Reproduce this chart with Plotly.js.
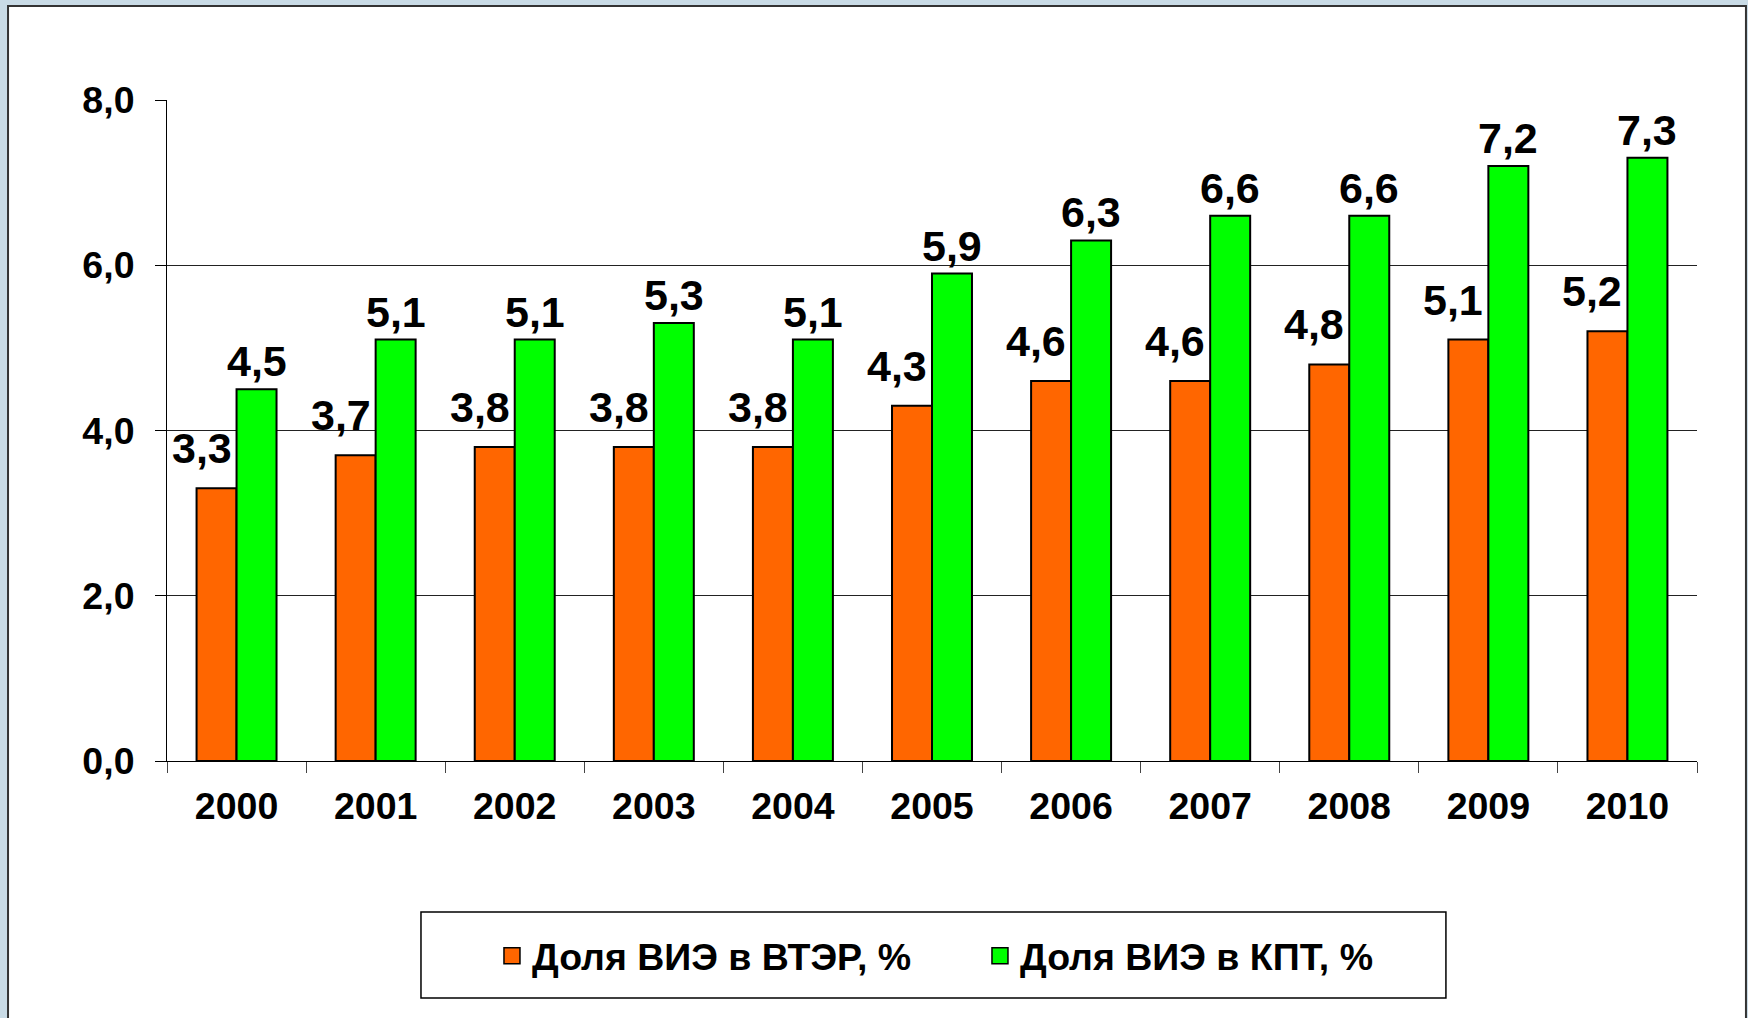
<!DOCTYPE html>
<html>
<head>
<meta charset="utf-8">
<script src="https://cdn.plot.ly/plotly-3.0.1.min.js"></script>
<style>
  html, body { margin: 0; padding: 0; overflow: hidden; background: #c9dbe6; }
  #chart { width: 1748px; height: 1018px; }
</style>
</head>
<body>
<div id="chart"></div>
<script>
// ---- data ----
const years = ['2000', '2001', '2002', '2003', '2004', '2005', '2006', '2007', '2008', '2009', '2010'];
const shareVTER = [3.3, 3.7, 3.8, 3.8, 3.8, 4.3, 4.6, 4.6, 4.8, 5.1, 5.2];
const shareKPT  = [4.5, 5.1, 5.1, 5.3, 5.1, 5.9, 6.3, 6.6, 6.6, 7.2, 7.3];
const seriesNames = ['Доля ВИЭ в ВТЭР, %', 'Доля ВИЭ в КПТ, %'];
const yTickVals = [0, 2, 4, 6, 8];

// ---- styling ----
const FONT = 'Liberation Sans, Arial, Helvetica, sans-serif';
const ORANGE = '#FF6600';
const GREEN = '#00FF00';
const fmt = v => v.toFixed(1).replace('.', ',');

const traces = [
  {
    type: 'bar', x: years, y: shareVTER, name: seriesNames[0], showlegend: false,
    marker: { color: ORANGE, line: { color: '#000', width: 2 } }, hoverinfo: 'x+y'
  },
  {
    type: 'bar', x: years, y: shareKPT, name: seriesNames[1], showlegend: false,
    marker: { color: GREEN, line: { color: '#000', width: 2 } }, hoverinfo: 'x+y'
  },
  // legend entries (square swatches, no visible point)
  {
    type: 'scatter', mode: 'markers', x: [years[0]], y: [null], name: seriesNames[0],
    marker: { symbol: 'square', size: 16, color: ORANGE, line: { color: '#000', width: 1.5 } },
    hoverinfo: 'skip'
  },
  {
    type: 'scatter', mode: 'markers', x: [years[0]], y: [null], name: seriesNames[1],
    marker: { symbol: 'square', size: 16, color: GREEN, line: { color: '#000', width: 1.5 } },
    hoverinfo: 'skip'
  }
];

// value labels: x is the category serial number (years look numeric, so names would be misread)
const annotations = [];
years.forEach((yr, i) => {
  annotations.push({
    x: i, y: shareVTER[i], xref: 'x', yref: 'y', text: fmt(shareVTER[i]),
    showarrow: false, xanchor: 'center', yanchor: 'bottom', xshift: -35, yshift: 14,
    font: { family: FONT, size: 43, color: '#000', weight: 'bold' }
  });
  annotations.push({
    x: i, y: shareKPT[i], xref: 'x', yref: 'y', text: fmt(shareKPT[i]),
    showarrow: false, xanchor: 'center', yanchor: 'bottom', xshift: 20, yshift: 2,
    font: { family: FONT, size: 43, color: '#000', weight: 'bold' }
  });
});

const layout = {
  width: 1748, height: 1018,
  margin: { l: 167, r: 51, t: 100, b: 257, autoexpand: false },
  paper_bgcolor: '#c9dbe6',
  plot_bgcolor: 'rgba(0,0,0,0)',
  separators: ', ',
  barmode: 'group', bargap: 0.425, bargroupgap: 0,
  font: { family: FONT, size: 37.5, color: '#000', weight: 'bold' },
  xaxis: {
    type: 'category', categoryorder: 'array', categoryarray: years,
    range: [-0.5, years.length - 0.5], tickangle: 0,
    tickson: 'boundaries',
    ticks: 'outside', ticklen: 11, tickwidth: 1, tickcolor: '#444',
    showline: true, linecolor: '#000', linewidth: 1,
    showgrid: false, zeroline: false,
    tickfont: { family: FONT, size: 37.5, color: '#000', weight: 'bold' },
    ticklabelstandoff: 12
  },
  yaxis: {
    range: [0, 8], tickvals: yTickVals, tickformat: '.1f',
    ticks: 'outside', ticklen: 11, tickwidth: 1, tickcolor: '#000',
    showline: true, linecolor: '#000', linewidth: 1,
    showgrid: true, gridcolor: '#222', gridwidth: 1, zeroline: false,
    tickfont: { family: FONT, size: 37.5, color: '#000', weight: 'bold' },
    ticklabelstandoff: 13
  },
  showlegend: true,
  legend: {
    orientation: 'h', x: 0.2124, xanchor: 'left', y: -0.295, yanchor: 'middle',
    bgcolor: 'rgba(0,0,0,0)', borderwidth: 0,
    entrywidth: 443, entrywidthmode: 'pixels',
    font: { family: FONT, size: 37.5, color: '#000', weight: 'bold' },
    itemclick: false, itemdoubleclick: false
  },
  shapes: [
    // white slide panel
    { type: 'rect', xref: 'paper', yref: 'paper', x0: -0.1039, x1: 1.032, y0: -0.45, y1: 1.1422,
      fillcolor: '#ffffff', line: { color: '#333', width: 2 }, layer: 'below' },
    // legend frame
    { type: 'rect', xref: 'paper', yref: 'paper', x0: 0.1660, x1: 0.8359, y0: -0.3585, y1: -0.2284,
      fillcolor: 'rgba(0,0,0,0)', line: { color: '#000', width: 1.5 }, layer: 'below' }
  ],
  annotations: annotations
};

Plotly.newPlot('chart', traces, layout, { displayModeBar: false, staticPlot: true });
</script>
</body>
</html>
